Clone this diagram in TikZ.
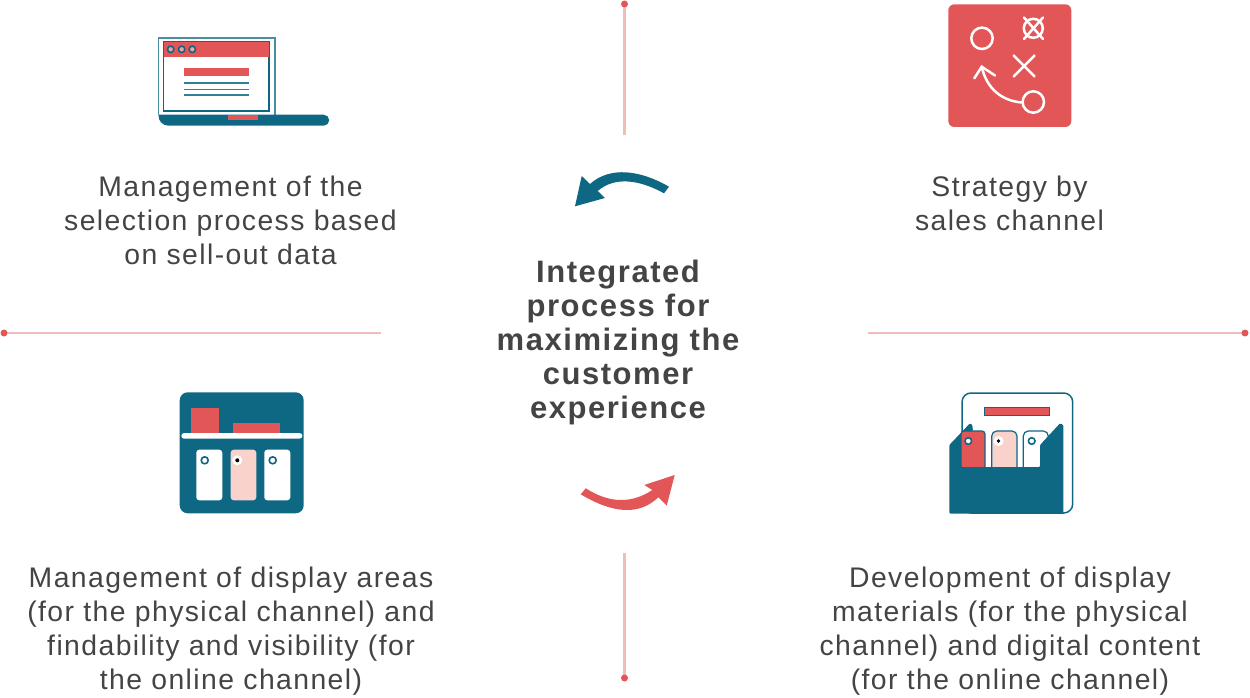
\documentclass[tikz,border=0pt]{standalone}
\usepackage{fontspec}
\setmainfont{Liberation Sans}[LetterSpace=5]
\definecolor{teal}{HTML}{0E6884}
\definecolor{redc}{HTML}{E35658}
\definecolor{pinkc}{HTML}{F9D2CB}
\definecolor{rulec}{HTML}{F0BDB9}
\definecolor{textc}{HTML}{444444}
\tikzset{
 caption/.style={align=center,inner sep=0pt,text=textc,font=\fontsize{28.35}{34}\selectfont},
 title/.style={align=center,inner sep=0pt,text=textc,font=\fontsize{31}{34}\selectfont\bfseries},
 sep/.style={draw=rulec,line width=2.6pt},
 enddot/.style={circle,fill=redc,inner sep=0pt,minimum size=7pt},
 tline/.style={draw=teal,line width=1.8pt},
}
\begin{document}
\begin{tikzpicture}[x=1pt,y=-1pt]
\useasboundingbox (0,0) rectangle (1250,698);
% separators
\coordinate (te) at (624.5,135);
\coordinate (be) at (624.5,553);
\coordinate (le) at (381,333);
\coordinate (re) at (868,333);
\coordinate (ts) at (624.5,4);
\coordinate (bs) at (624.5,678);
\coordinate (ls) at (4,333);
\coordinate (rs) at (1245,333);
\draw[sep] (ts) -- (te);
\draw[sep] (bs) -- (be);
\draw[sep] (ls) -- (le);
\draw[sep] (rs) -- (re);
\node[enddot] (dt) at (ts) {};
\node[enddot] (db) at (bs) {};
\node[enddot] (dl) at (ls) {};
\node[enddot] (dr) at (rs) {};
% captions
\node[caption] (c1) at (230.5,220) {Management of the\\selection process based\\on sell-out data};
\node[caption] (c2) at (1009.5,203) {Strategy by\\sales channel};
\node[caption] (c3) at (231,631.5) {Management of display areas\\(for the physical channel) and\\findability and visibility (for\\the online channel)};
\node[caption] (c4) at (1010,631.5) {Development of display\\materials (for the physical\\channel) and digital content\\(for the online channel)};
\node[title] (t) at (618,342) {Integrated\\process for\\maximizing the\\customer\\experience};
% cycle arrows
\fill[teal] (669,186.7) .. controls (640,170) and (610,166) .. (590,184)
 -- (581.7,176) -- (575,206.3) -- (605,198) -- (597.7,191)
 .. controls (615,176) and (640,180) .. (664,193.3) -- cycle;
\fill[redc] (585.7,488.3) .. controls (609.2,503.3) and (631.4,503.9) .. (652.3,490)
 -- (644.3,485) -- (674.7,475) -- (666.7,505.7) -- (658.3,497.3)
 .. controls (639.8,515.2) and (613.9,514.2) .. (580.7,494.3) -- cycle;
% laptop
\fill[white] (158.5,37.3) rectangle (274.7,115);
\draw[draw=teal!75,line width=1.8pt] (158.5,115) -- (158.5,37.8) -- (274.7,37.8) -- (274.7,115);
\fill[redc] (163.5,42) rectangle (269.3,56.7);
\draw[tline] (163.5,42) rectangle (269.3,110.7);
\fill[redc] (164,42.5) rectangle (269,56.7);
\foreach \x in {170.7,181.7,192.3}{\fill[fill=pinkc!60!redc,draw=teal,line width=1.6pt] (\x,49.3) circle (3.2);}
\fill[redc] (184.3,68) rectangle (248.7,76.3);
\foreach \y in {83,89.3,95}{\draw[draw=teal!85,line width=1.5pt] (184.3,\y) -- (248.7,\y);}
\fill[teal] (158.5,114.7) -- (323.7,114.7) arc[start angle=-90,end angle=90,radius=5.5] -- (168.5,125.7) arc[start angle=90,end angle=180,radius=10] -- cycle;
\fill[redc] (228.3,114.7) rectangle (258,119.7);
% strategy
\fill[redc,rounded corners=6pt] (948.3,4.3) rectangle (1071.3,127);
\begin{scope}[draw=white,line width=2.5pt,line cap=round]
\draw (982,38.3) circle (10.7);
\draw (1033.3,28.3) circle (9.5);
\draw (1024,17.5) -- (1043,39);
\draw (1043,17.5) -- (1024,39);
\draw (1013.7,55.5) -- (1034.5,76.5);
\draw (1034.5,55.5) -- (1013.7,76.5);
\draw (1033.3,102) circle (10.7);
\draw (1022,102.5) .. controls (1003,101) and (987,90) .. (981.7,66.7);
\draw (974.3,78.3) -- (981.7,66.7) -- (995,75.5);
\end{scope}
% shelf
\fill[teal,rounded corners=8pt] (179.7,392.3) rectangle (303.7,513.3);
\fill[redc] (191.3,408) rectangle (218.7,433);
\fill[redc] (233,423) rectangle (279.7,433);
\fill[white,rounded corners=2.8pt] (181.3,433) rectangle (302.3,438.7);
\fill[white,rounded corners=3pt] (196.3,449.7) rectangle (222.3,500.3);
\fill[pinkc,rounded corners=3pt] (230.7,449.7) rectangle (256.3,500.3);
\fill[white,rounded corners=3pt] (264.3,449.7) rectangle (290.3,500.3);
\draw[draw=teal,line width=1.6pt,fill=white] (204.7,460.3) circle (3.5);
\draw[draw=teal,line width=1.6pt,fill=white] (272.7,460.3) circle (3.5);
\fill[white] (237.3,460.3) circle (5);
\fill[black] (237.3,460.3) circle (2);
% display
\draw[draw=teal,line width=1.5pt,fill=white,rounded corners=9pt] (962,513) -- (962,393) -- (1072.7,393) -- (1072.7,513) -- cycle;
\draw[draw=teal,line width=1.2pt,fill=redc] (984.7,407.3) rectangle (1049.3,415.7);
\draw[draw=teal,line width=1.2pt,fill=redc,rounded corners=3pt] (961,470) -- (961,431) -- (985,431) -- (985,470);
\draw[draw=teal,line width=1.2pt,fill=pinkc,rounded corners=5pt] (991.7,470) -- (991.7,431) -- (1017,431) -- (1017,470);
\draw[draw=teal,line width=1.2pt,fill=white,rounded corners=5pt] (1023.3,470) -- (1023.3,431) -- (1048.3,431) -- (1048.3,470);
\fill[teal,rounded corners=1pt] (949.3,513.5) -- (949.3,445) -- (970,423.3) -- (972.3,425) -- (973,431) -- (961,431) -- (961,467) -- (1040,467) -- (1040,445) -- (1060,423.3) -- (1063.3,425) -- (1063.3,513.5) -- cycle;
\draw[draw=teal,line width=1.6pt,fill=white] (968.3,441) circle (3.3);
\fill[white] (998.5,441) circle (5);
\fill[black] (998.5,441) circle (1.8);
\draw[draw=teal,line width=1.6pt,fill=white] (1031.7,441) circle (3.3);
\end{tikzpicture}
\end{document}
